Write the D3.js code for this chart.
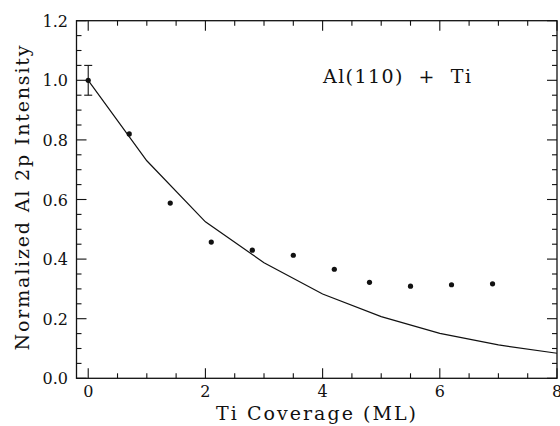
<!DOCTYPE html>
<html><head><meta charset="utf-8">
<script src="https://cdn.jsdelivr.net/npm/d3@7"></script>
<style>body{margin:0;background:#fff}svg{display:block}</style>
</head><body>
<svg id="c" width="560" height="426"></svg>
<script>
const coverage = [0, 0.7, 1.4, 2.1, 2.8, 3.5, 4.2, 4.8, 5.5, 6.2, 6.9];
const intensity = [1.0, 0.82, 0.588, 0.457, 0.43, 0.413, 0.366, 0.322, 0.309, 0.314, 0.317];
const errorBar = {x: 0, lo: 0.95, hi: 1.05};
const modelCoverage = [0, 1, 2, 3, 4, 5, 6, 7, 8];
const modelIntensity = [1.0, 0.73, 0.525, 0.388, 0.283, 0.207, 0.151, 0.112, 0.084];
const xTicks = [0, 2, 4, 6, 8];
const yTicks = [0.0, 0.2, 0.4, 0.6, 0.8, 1.0, 1.2];
const xLabel = "Ti Coverage (ML)";
const yLabel = "Normalized Al 2p Intensity";
const annotation = "Al(110)  +  Ti";

const svg = d3.select("#c");
const L = 76.5, R = 557, T = 20.7, B = 378.3;
const x = d3.scaleLinear().domain([-0.2, 8]).range([L, R]);
const y = d3.scaleLinear().domain([0, 1.2]).range([B, T]);
const ink = "#111";
const font = "DejaVu Serif, serif";

// frame
svg.append("rect").attr("x", L).attr("y", T).attr("width", R - L).attr("height", B - T)
  .attr("fill", "none").attr("stroke", ink).attr("stroke-width", 1.3);

const xMinor = d3.range(0, 8.01, 0.5).filter(v => !xTicks.includes(v));
const yMinor = d3.range(0.05, 1.2, 0.05).map(v => +v.toFixed(2)).filter(v => !yTicks.some(t => Math.abs(t - v) < 1e-6));
const tk = svg.append("g").attr("stroke", ink).attr("stroke-width", 1.1);
function xt(vals, len) {
  vals.forEach(v => {
    tk.append("line").attr("x1", x(v)).attr("x2", x(v)).attr("y1", B).attr("y2", B - len);
    tk.append("line").attr("x1", x(v)).attr("x2", x(v)).attr("y1", T).attr("y2", T + len);
  });
}
function yt(vals, len) {
  vals.forEach(v => {
    tk.append("line").attr("y1", y(v)).attr("y2", y(v)).attr("x1", L).attr("x2", L + len);
    tk.append("line").attr("y1", y(v)).attr("y2", y(v)).attr("x1", R).attr("x2", R - len);
  });
}
xt(xTicks, 10); xt(xMinor, 5);
yt(yTicks, 10); yt(yMinor, 5);

// tick labels
svg.append("g").selectAll("text").data(xTicks).join("text")
  .attr("x", d => x(d)).attr("y", 397).attr("text-anchor", "middle")
  .attr("font-family", font).attr("font-size", 16).attr("fill", ink).text(d => d);
svg.append("g").selectAll("text").data(yTicks).join("text")
  .attr("x", 68).attr("y", d => y(d) + 6).attr("text-anchor", "end")
  .attr("font-family", font).attr("font-size", 16).attr("fill", ink).text(d => d.toFixed(1));

// axis titles
svg.append("text").attr("x", 316).attr("y", 420).attr("text-anchor", "middle")
  .attr("font-family", font).attr("font-size", 19).attr("fill", ink)
  .attr("textLength", 200).attr("lengthAdjust", "spacing").text(xLabel);
svg.append("text").attr("transform", "translate(29,198) rotate(-90)").attr("text-anchor", "middle")
  .attr("font-family", font).attr("font-size", 19).attr("fill", ink)
  .attr("textLength", 305).attr("lengthAdjust", "spacing").text(yLabel);

// annotation
svg.append("text").attr("x", 323).attr("y", 83).attr("font-family", font).attr("font-size", 19)
  .attr("fill", ink).attr("textLength", 148).attr("lengthAdjust", "spacing")
  .attr("xml:space", "preserve").style("white-space", "pre").text(annotation);

// model curve
const line = d3.line().x((d, i) => x(modelCoverage[i])).y(d => y(d));
svg.append("path").datum(modelIntensity).attr("d", line)
  .attr("fill", "none").attr("stroke", ink).attr("stroke-width", 1.2);

// error bar
const eb = svg.append("g").attr("stroke", ink).attr("stroke-width", 1.1);
eb.append("line").attr("x1", x(errorBar.x)).attr("x2", x(errorBar.x)).attr("y1", y(errorBar.lo)).attr("y2", y(errorBar.hi));
[errorBar.lo, errorBar.hi].forEach(v =>
  eb.append("line").attr("x1", x(errorBar.x) - 4).attr("x2", x(errorBar.x) + 4).attr("y1", y(v)).attr("y2", y(v)));

// data points
svg.append("g").selectAll("circle").data(coverage).join("circle")
  .attr("cx", d => x(d)).attr("cy", (d, i) => y(intensity[i])).attr("r", 2.6).attr("fill", ink);
</script>
</body></html>
